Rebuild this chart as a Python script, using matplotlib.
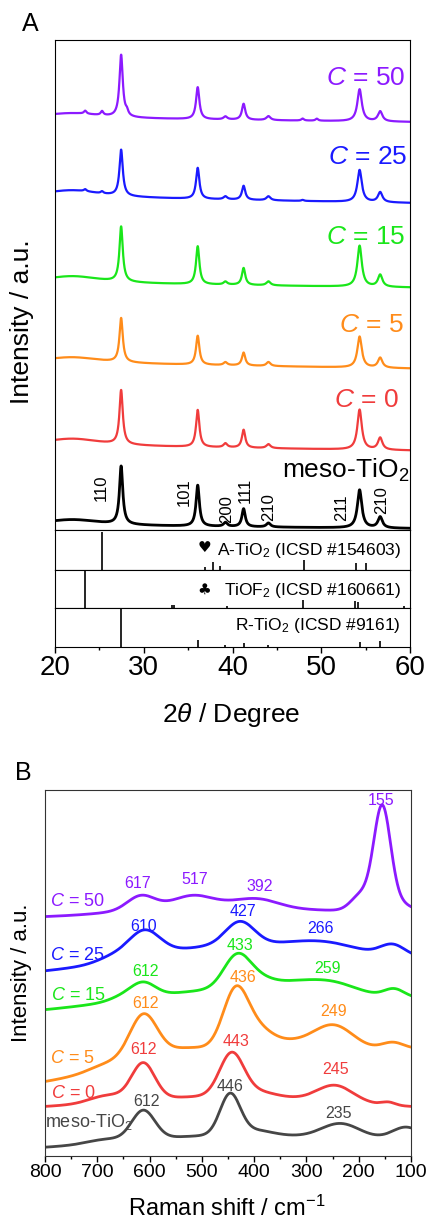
import numpy as np
import matplotlib
matplotlib.use('Agg')
import matplotlib.pyplot as plt
from matplotlib.ticker import MultipleLocator

plt.rcParams['font.family'] = ['Liberation Sans', 'DejaVu Sans']
plt.rcParams['mathtext.fontset'] = 'custom'
plt.rcParams['mathtext.rm'] = 'Liberation Sans'
plt.rcParams['mathtext.it'] = 'Liberation Sans:italic'

# ---------------- XRD (panel A) ----------------
sample_names = ['$C$ = 50', '$C$ = 25', '$C$ = 15', '$C$ = 5', '$C$ = 0', 'meso-TiO$_\\mathregular{2}$']
sample_colors = ['#8C1AFF', '#1A1AFF', '#1AE61A', '#FF8C1A', '#F03C3C', '#000000']

# rutile reflections shared by all patterns
xrd_pos = [27.45, 36.08, 39.2, 41.25, 44.05, 54.32, 56.64]
xrd_fwhm = [0.45, 0.45, 0.5, 0.45, 0.55, 0.6, 0.6]
xrd_heights = [
    [62, 32, 3, 16, 4, 32, 10],
    [46, 31, 3, 14, 4, 32, 10],
    [55, 38, 3, 17, 4, 41, 12],
    [44, 29, 3, 13, 4, 31, 10],
    [54, 37, 4, 18, 4, 40, 12],
    [58, 41, 4, 18, 4, 38, 11],
]
# weak anatase / TiOF2 reflections (C = 50 and C = 25 only)
extra_pos = [23.4, 25.3, 28.1, 47.9, 49.5]
extra_heights = [
    [3, 4, 4, 2, 2],
    [2, 2, 0, 1, 0],
    [0, 0, 0, 0, 0],
    [0, 0, 0, 0, 0],
    [0, 0, 0, 0, 0],
    [0, 0, 0, 0, 0],
]
xrd_offset = [412, 333, 247, 167, 84.5, 4.5]
xrd_drop = [4, 6, 4.5, 5.5, 5, 3]
xrd_hump = [5, 7, 7, 6, 7, 6]

hkl_text = ['110', '101', '200', '111', '210', '211', '210']
hkl_x = [25.26, 34.53, 39.35, 41.49, 44.03, 52.3, 56.8]
hkl_y = [42.5, 37.5, 21, 39.5, 23.3, 22.5, 30]

# reference patterns
ref_names = ['A-TiO$_\\mathregular{2}$ (ICSD #154603)', 'TiOF$_\\mathregular{2}$ (ICSD #160661)',
             'R-TiO$_\\mathregular{2}$ (ICSD #9161)']
ref_marks = ['\u2665', '\u2663', '']
ref_pos = [
    [25.3, 36.95, 37.8, 38.57, 48.05, 53.89, 55.06],
    [23.4, 33.2, 33.4, 39.4, 47.9, 53.8, 54.1, 59.3],
    [27.45, 36.08, 39.2, 41.24, 44.05, 54.32, 56.64],
]
ref_int = [
    [0.96, 0.08, 0.2, 0.1, 0.26, 0.18, 0.18],
    [1.0, 0.08, 0.08, 0.05, 0.22, 0.18, 0.16, 0.05],
    [1.0, 0.18, 0.06, 0.1, 0.05, 0.13, 0.16],
]

# ---------------- Raman (panel B) ----------------
raman_colors = ['#8C1AFF', '#1A1AFF', '#1AE61A', '#FF8C1A', '#F03C3C', '#464646']
raman_base = [(239, 246), (182, 196), (143, 155), (70, 104), (46, 46), (7, 17)]
# (centre / cm-1, height, fwhm)
raman_bands = [
    [(500, 11, 280), (617, 13, 60), (517, 8, 80), (392, 7, 90), (195, 16, 45), (155, 103, 38), (120, 6, 40)],
    [(450, 22, 420), (670, 5, 70), (610, 25, 70), (427, 23, 65), (266, 9, 150), (135, 11, 55)],
    [(450, 18, 450), (650, 4, 60), (612, 14, 55), (433, 32, 60), (390, 9, 70), (259, 12, 120),
     (330, 4, 80), (132, 8, 45)],
    [(470, 20, 450), (680, 6, 80), (612, 45.7, 62), (540, 6, 100), (436, 55, 56), (395, 18, 70),
     (249, 24, 90), (330, 5, 80), (135, 7, 50)],
    [(450, 14, 500), (680, 7, 80), (612, 36, 52), (443, 42, 54), (395, 5, 80), (245, 16, 80), (143, 3, 30)],
    [(480, 9, 420), (685, 3.5, 80), (612, 29, 52), (446, 40, 45), (400, 5, 80), (235, 14, 85), (110, 11, 60)],
]
raman_name_y = [254.3, 201, 160, 97.7, 62.7, 34.3]
raman_name_x = [790, 790, 789, 790, 789, 800]
peak_text = [
    [('617', 623.5, 272.7), ('517', 514.5, 276), ('392', 390.2, 269.3), ('155', 158, 355.3)],
    [('610', 610.7, 229.3), ('427', 422, 244.3), ('266', 272.7, 227.7)],
    [('612', 607.4, 184.3), ('433', 427.1, 211), ('259', 259.4, 187.7)],
    [('612', 607.4, 152.7), ('436', 420.8, 178.7), ('249', 248.7, 144.3)],
    [('612', 612, 106.7), ('443', 434.7, 114.3), ('245', 243.5, 86)],
    [('612', 605.5, 54.3), ('446', 446, 69.3), ('235', 239, 42.7)],
]


def lorentz(x, c, h, w):
    return h / (1 + ((x - c) / (w / 2)) ** 2)


def gauss(x, c, h, w):
    return h * np.exp(-4 * np.log(2) * ((x - c) / w) ** 2)


W, H = 427, 1219
fig = plt.figure(figsize=(W / 100, H / 100), dpi=100)


def px_axes(left, top, right, bottom):
    return fig.add_axes([left / W, 1 - bottom / H, (right - left) / W, (bottom - top) / H])


def px_text(x, y, s, **kw):
    fig.text(x / W, 1 - y / H, s, **kw)


# ---- panel A: patterns ----
axA = px_axes(55, 40, 410, 530)
tt = np.linspace(20, 60, 4001)
for i in range(6):
    y = xrd_offset[i] - xrd_drop[i] * (tt - 20) / 40 + lorentz(tt, 22, xrd_hump[i], 8)
    for p, h, w in zip(xrd_pos, xrd_heights[i], xrd_fwhm):
        y += lorentz(tt, p, h, w)
    for p, h in zip(extra_pos, extra_heights[i]):
        if h:
            y += lorentz(tt, p, h, 0.35)
    axA.plot(tt, y, color=sample_colors[i], lw=2.0 if i == 5 else 1.6)

label_x = [59.44, 59.66, 59.44, 59.3, 58.7, 59.95]
label_y = [452, 373, 293, 205, 130, 60]
for i in range(6):
    axA.text(label_x[i], label_y[i], sample_names[i], color=sample_colors[i],
             fontsize=19, ha='right', va='center')
for s, hx, hy in zip(hkl_text, hkl_x, hkl_y):
    axA.text(hx, hy, s, rotation=90, fontsize=12, ha='center', va='center')
axA.set_xlim(20, 60)
axA.set_ylim(0, 490)
axA.set_xticks([])
axA.set_yticks([])

# ---- panel A: reference sticks ----
strips = [(530, 570), (570, 608), (608, 647)]
text_y = [0.5, 0.45, 0.55]
for k, (top, bot) in enumerate(strips):
    ax = px_axes(55, top, 410, bot)
    ax.vlines(ref_pos[k], 0, ref_int[k], color='black', lw=1.2)
    ax.set_xlim(20, 60)
    ax.set_ylim(0, 1)
    ax.set_yticks([])
    ax.text(0.975, text_y[k], ref_names[k], transform=ax.transAxes, fontsize=12.5,
            ha='right', va='center')
    if ref_marks[k]:
        ax.text(0.42, text_y[k] + 0.05, ref_marks[k], transform=ax.transAxes, fontsize=11,
                ha='center', va='center', family=['DejaVu Sans'])
    if k < 2:
        ax.tick_params(bottom=False, labelbottom=False)
    else:
        ax.xaxis.set_major_locator(MultipleLocator(10))
        ax.xaxis.set_minor_locator(MultipleLocator(5))
        ax.tick_params(axis='x', which='major', direction='out', length=4, width=1, labelsize=20, pad=2)
        ax.tick_params(axis='x', which='minor', direction='out', length=2.5, width=1)

px_text(231, 715, '2$\\mathit{\\theta}$ / Degree', fontsize=19, ha='center', va='center')
px_text(22, 322, 'Intensity / a.u.', fontsize=19, rotation=90, ha='center', va='center')
px_text(30.5, 24, 'A', fontsize=18, ha='center', va='center')

# ---- panel B: Raman ----
axB = px_axes(45, 790, 411, 1156)
v = np.linspace(100, 800, 1401)
for i in range(6):
    y0, y1 = raman_base[i]
    y = y0 + (y1 - y0) * (800 - v) / 700
    for c, h, w in raman_bands[i]:
        y += gauss(v, c, h, w)
    axB.plot(v, y, color=raman_colors[i], lw=2.0)
    axB.text(raman_name_x[i], raman_name_y[i], sample_names[i], color=raman_colors[i],
             fontsize=13, ha='left', va='center')
    for s, px, py in peak_text[i]:
        axB.text(px, py, s, color=raman_colors[i], fontsize=11.5, ha='center', va='center')

axB.set_xlim(800, 100)
axB.set_ylim(0, 366)
axB.set_yticks([])
axB.xaxis.set_major_locator(MultipleLocator(100))
axB.xaxis.set_minor_locator(MultipleLocator(50))
axB.tick_params(axis='x', which='major', direction='out', length=4, width=1, labelsize=14, pad=2)
axB.tick_params(axis='x', which='minor', direction='out', length=2.5, width=1)
for sp in axB.spines.values():
    sp.set_color('#333333')

px_text(227, 1208, 'Raman shift / cm$^{-1}$', fontsize=17, ha='center', va='center')
px_text(22, 973, 'Intensity / a.u.', fontsize=16, rotation=90, ha='center', va='center')
px_text(23.3, 772.5, 'B', fontsize=18, ha='center', va='center')

fig.savefig('out.png', dpi=100)
